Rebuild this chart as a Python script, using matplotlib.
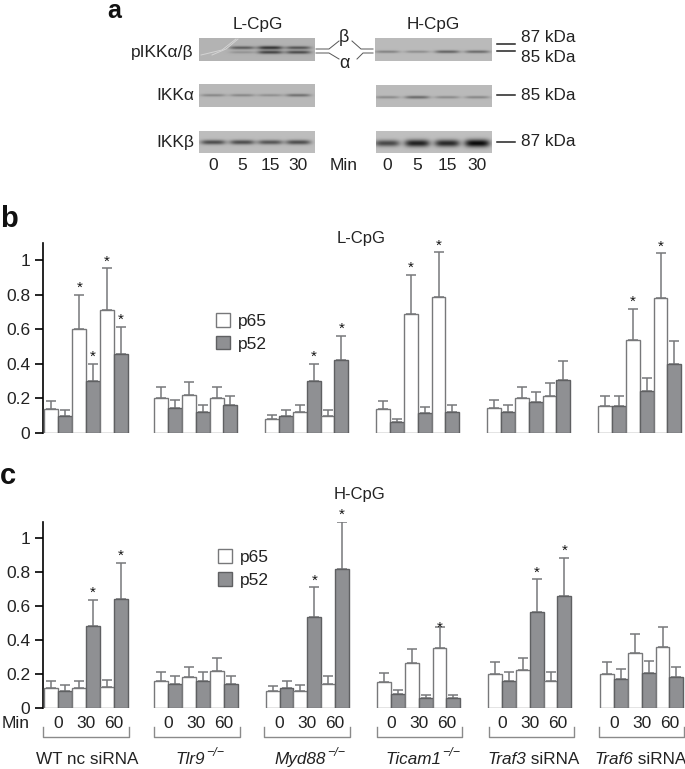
import numpy as np
import matplotlib
matplotlib.use('Agg')
import matplotlib.pyplot as plt

plt.rcParams['font.family'] = ['Liberation Sans', 'DejaVu Sans']

W, H = 685, 769

# bars are p65, p52, p65, p52, p65, p52 in every group
b_vals = [[.14, .10, .60, .30, .715, .46],
          [.20, .145, .22, .12, .20, .16],
          [.08, .10, .12, .30, .10, .42],
          [.14, .062, .687, .114, .785, .124],
          [.143, .12, .20, .18, .217, .307],
          [.159, .159, .54, .242, .78, .40]]
b_tops = [[.186, .133, .80, .40, .953, .614],
          [.267, .19, .295, .16, .267, .213],
          [.107, .133, .16, .40, .133, .56],
          [.186, .08, .917, .153, 1.046, .164],
          [.19, .162, .265, .24, .288, .414],
          [.213, .213, .72, .32, 1.04, .534]]
b_stars = [(0, 2), (0, 3), (0, 4), (0, 5), (2, 3), (2, 5), (3, 2), (3, 4), (5, 2), (5, 4)]

c_vals = [[.115, .10, .12, .48, .122, .64],
          [.16, .14, .18, .16, .22, .14],
          [.098, .118, .098, .535, .14, .82],
          [.155, .08, .263, .059, .355, .057],
          [.20, .157, .222, .567, .16, .66],
          [.20, .17, .325, .208, .357, .18]]
c_tops = [[.157, .133, .16, .635, .165, .855],
          [.213, .187, .24, .213, .295, .187],
          [.127, .16, .133, .71, .187, 1.095],
          [.206, .108, .349, .075, .475, .075],
          [.269, .21, .294, .757, .214, .882],
          [.269, .227, .433, .278, .475, .241]]
c_stars = [(0, 3), (0, 5), (2, 3), (2, 5), (3, 4), (4, 3), (4, 5)]

yticks = [0, 0.2, 0.4, 0.6, 0.8, 1]
ylabels = ['0', '0.2', '0.4', '0.6', '0.8', '1']
minutes = ['0', '30', '60']
gene_names = ['Tlr9', 'Myd88', 'Ticam1', 'Traf3', 'Traf6']
gene_tails = ['−/−', '−/−', '−/−', ' siRNA', ' siRNA']

# band strength per lane (0, 5, 15, 30 min)
p_beta_L = [0, .55, .8, .6]
p_alpha_L = [0, .2, .7, .65]
p_H = [.35, .28, .55, .5]
ikka_L = [.3, .3, .25, .45]
ikka_H = [.3, .5, .3, .32]
ikkb_L = [.7, .7, .65, .7]
ikkb_H = [.75, 1.0, .95, 1.15]

GRAY = '#77787a'
DARK = '#8f9093'
TXT = '#222222'


def blot(ax, x0, x1, y0, y1, lanes, bands, bg):
    xs = np.arange(x0, x1, 0.5)
    ys = np.arange(y0, y1, 0.5)
    xx, yy = np.meshgrid(xs, ys)
    img = np.full(xx.shape, bg)
    for strengths, ypos, thick in bands:
        for lane, s in zip(lanes, strengths):
            lane_prof = np.exp(-((xx - lane) / 12.5) ** 4)
            img = img - s * 0.62 * lane_prof * np.exp(-((yy - ypos) / (thick * (0.7 + 0.5 * s))) ** 2)
    ax.imshow(img, cmap='gray', vmin=0, vmax=1, extent=(x0, x1, y1, y0), aspect='auto', zorder=1)


def bars(ax, starts, vals, tops, stars, base):
    bw = 13.9
    h1 = h2 = None
    for i, st in enumerate(starts):
        for j in range(6):
            x = st + bw * (j + 0.5)
            dark = j % 2 == 1
            c = ax.bar(x, vals[i][j], bw, color=DARK if dark else 'white',
                       edgecolor='#5f6062' if dark else GRAY, linewidth=1.0, zorder=3)
            if dark:
                h2 = c
            else:
                h1 = c
            ax.errorbar(x, vals[i][j], yerr=[[0], [tops[i][j] - vals[i][j]]], color=GRAY,
                        capsize=3.7, elinewidth=1.1, capthick=1.1, zorder=2)
    for i, j in stars:
        x = starts[i] + bw * (j + 0.5)
        # the Ticam1 star sits right on its cap
        gap = -0.045 if base == 'c' and i == 3 else 0.0
        ax.text(x, tops[i][j] + gap, '*', ha='center', va='bottom', fontsize=11, color='#111111', zorder=4)
    return h1, h2


def chart_axes(fig, top_px, zero_px, ymax):
    ax = fig.add_axes([0, 1 - zero_px / H, 1, (zero_px - top_px) / H])
    ax.patch.set_alpha(0)
    ax.set_xlim(0, W)
    ax.set_ylim(0, ymax)
    for s in ['top', 'right', 'bottom']:
        ax.spines[s].set_visible(False)
    ax.spines['left'].set_position(('data', 43))
    ax.spines['left'].set_linewidth(1.2)
    ax.set_yticks(yticks)
    ax.set_yticklabels(ylabels, fontsize=12.5, color=TXT)
    ax.tick_params(axis='y', length=6, width=1.2, pad=3)
    return ax


fig = plt.figure(figsize=(W / 100, H / 100), dpi=100)

# pixel canvas for panel a and the loose annotations
pix = fig.add_axes([0, 0, 1, 1])
pix.axis('off')

lanes_L = [213, 242, 270, 298]
lanes_H = [387, 417, 447, 477]
blot(pix, 199, 315, 38, 61, lanes_L, [(p_beta_L, 47.5, 1.6), (p_alpha_L, 52, 1.6)], .70)
blot(pix, 375, 492, 38, 61, lanes_H, [(p_H, 51.5, 1.5)], .73)
blot(pix, 199, 315, 84, 107, lanes_L, [(ikka_L, 95, 1.6)], .72)
blot(pix, 376, 492, 85, 107, lanes_H, [(ikka_H, 97, 1.6)], .73)
blot(pix, 199, 315, 131, 153, lanes_L, [(ikkb_L, 142, 2.2)], .74)
blot(pix, 376, 492, 131, 153, lanes_H, [(ikkb_H, 143, 3.0)], .75)
pix.plot([201, 222, 236], [55, 50, 39], color='#d4d4d4', lw=0.7, zorder=2)
pix.plot([212, 226, 238], [55, 49, 39], color='#d4d4d4', lw=0.7, zorder=2)

pix.set_xlim(0, W)
pix.set_ylim(H, 0)

pix.text(258, 25, 'L-CpG', ha='center', va='center', fontsize=12.3, color=TXT)
pix.text(433, 25, 'H-CpG', ha='center', va='center', fontsize=12.3, color=TXT)
for y_, lab in [(52, 'pIKKα/β'), (95, 'IKKα'), (143, 'IKKβ')]:
    pix.text(194, y_, lab, ha='right', va='center', fontsize=12.5, color=TXT)
for y_, lab in [(38, '87 kDa'), (57, '85 kDa'), (95, '85 kDa'), (142, '87 kDa')]:
    pix.text(521, y_, lab, ha='left', va='center', fontsize=12.3, color=TXT)
for y_ in [44, 51, 95, 142]:
    pix.plot([497, 515], [y_, y_], color='#222222', lw=1.1)
for x_, lab in zip(lanes_L + lanes_H, ['0', '5', '15', '30'] * 2):
    pix.text(x_, 166, lab, ha='center', va='center', fontsize=12.5, color=TXT)
pix.text(344, 166, 'Min', ha='center', va='center', fontsize=12.5, color=TXT)
pix.text(344, 37, 'β', ha='center', va='center', fontsize=13, color=TXT)
pix.text(344, 63, 'α', ha='center', va='center', fontsize=13, color=TXT)

# connectors between the two pIKK blots
conn = dict(color='#555555', lw=0.7)
pix.plot([316, 329, 339], [49, 49, 41], **conn)
pix.plot([316, 329, 339], [53, 53, 59], **conn)
pix.plot([352, 361, 373], [41, 49, 49], **conn)
pix.plot([357, 363, 373], [59, 53, 53], **conn)

pix.text(107, 18.5, 'a', ha='left', va='baseline', fontsize=18, fontweight='bold', color='#111111')
pix.text(0, 219, 'b', ha='left', va='center', fontsize=21, fontweight='bold', color='#111111')
pix.text(0, 476, 'c', ha='left', va='center', fontsize=21, fontweight='bold', color='#111111')
pix.text(361, 238, 'L-CpG', ha='center', va='center', fontsize=12, color=TXT)
pix.text(360, 495, 'H-CpG', ha='center', va='center', fontsize=12, color=TXT)

# panel b
starts_b = [44.5, 154, 265, 376, 487, 598]
ax_b = chart_axes(fig, 243, 433, 1.10)
hb = bars(ax_b, starts_b, b_vals, b_tops, b_stars, 'b')
ax_b.set_xticks([])
ax_b.legend(hb, ['p65', 'p52'], loc='center left', bbox_to_anchor=(200 / W, 0.53), frameon=False,
            fontsize=12.5, handlelength=0.85, handleheight=0.85, handletextpad=0.45, labelspacing=0.38,
            labelcolor=TXT)

# panel c
starts_c = [44.5, 154.5, 265.7, 377, 488, 600]
ax_c = chart_axes(fig, 522, 708, 1.094)
hc = bars(ax_c, starts_c, c_vals, c_tops, c_stars, 'c')
ticks = [st + 13.9 * (k * 2 + 1) for st in starts_c for k in range(3)]
ax_c.set_xticks(ticks)
ax_c.set_xticklabels(minutes * 6, fontsize=12.5, color=TXT)
ax_c.tick_params(axis='x', length=0, pad=6)
ax_c.legend(hc, ['p65', 'p52'], loc='center left', bbox_to_anchor=(202 / W, 0.75), frameon=False,
            fontsize=12.5, handlelength=0.85, handleheight=0.85, handletextpad=0.45, labelspacing=0.38,
            labelcolor=TXT)

pix.text(2, 724, 'Min', ha='left', va='center', fontsize=12.5, color=TXT)
brackets = [(43, 129), (154, 240), (264, 350), (377, 462), (489, 574), (599, 684)]
for x0, x1 in brackets:
    pix.plot([x0, x0, x1, x1], [727, 737, 737, 727], color='#8a8a8a', lw=1.0)

# group names: italic gene name, then superscript or plain siRNA on the same baseline
pix.text(86.7, 764, 'WT nc siRNA', ha='center', va='baseline', fontsize=12.3, color=TXT)
name_x = [175, 274, 385, 487, 594]
for x_, name, tail in zip(name_x, gene_names, gene_tails):
    t = pix.text(x_, 764, name, ha='left', va='baseline', fontsize=12.3, style='italic', color=TXT)
    if tail == ' siRNA':
        pix.annotate(tail, xy=(1, 0), xycoords=t, va='bottom', ha='left', fontsize=12.3, color=TXT)
    else:
        pix.annotate(tail, xy=(1, 0), xycoords=t, xytext=(1, 6), textcoords='offset points',
                     va='bottom', ha='left', fontsize=9, style='italic', color=TXT)

fig.savefig('out.png', dpi=100)
